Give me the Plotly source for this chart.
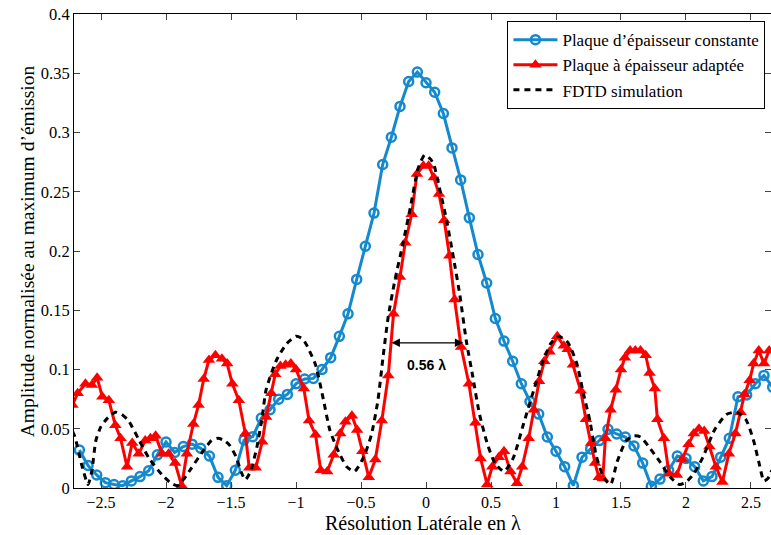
import plotly.graph_objects as go

# Blue: constant-thickness plate (x = k/15)
blue_x = [k / 15 for k in range(-40, 41)]
blue_y = [0.032, 0.019, 0.011, 0.0045, 0.003, 0.002, 0.006, 0.0096, 0.0146, 0.028,
          0.0388, 0.030, 0.035, 0.037, 0.0335, 0.027, 0.009, 0.002, 0.015, 0.0405,
          0.0433, 0.059, 0.066, 0.075, 0.079, 0.088, 0.092, 0.0925, 0.100, 0.110,
          0.128, 0.147, 0.176, 0.204, 0.232, 0.273, 0.296, 0.322, 0.343, 0.351,
          0.342, 0.334, 0.316, 0.287, 0.260, 0.228, 0.197, 0.173, 0.143, 0.124,
          0.107, 0.088, 0.073, 0.0624, 0.043, 0.031, 0.018, 0.002, 0.026, 0.033,
          0.040, 0.0495, 0.0456, 0.043, 0.0354, 0.021, 0.0015, 0.0075, 0.015, 0.027,
          0.025, 0.018, 0.006, 0.0096, 0.026, 0.042, 0.077, 0.0785, 0.088, 0.095, 0.085]

# Red: adapted-thickness plate
red_x = [-2.72, -2.68, -2.62, -2.57, -2.53, -2.49, -2.44, -2.39, -2.35, -2.30,
         -2.26, -2.21, -2.16, -2.12, -2.08, -2.03, -1.98, -1.93, -1.88, -1.84,
         -1.79, -1.75, -1.71, -1.67, -1.62, -1.57, -1.53, -1.49, -1.44, -1.39,
         -1.36, -1.31, -1.26, -1.23, -1.19, -1.16, -1.12, -1.08, -1.04, -1.00,
         -0.94, -0.90, -0.85, -0.81, -0.76, -0.71, -0.66, -0.62, -0.57, -0.53,
         -0.49, -0.44, -0.39, -0.34, -0.29, -0.25, -0.20, -0.16, -0.11, -0.07,
         -0.02, 0.02, 0.06, 0.10, 0.14, 0.18, 0.22, 0.27, 0.33, 0.38,
         0.42, 0.47, 0.51, 0.56, 0.60, 0.65, 0.70, 0.74, 0.79, 0.83,
         0.87, 0.91, 0.95, 1.01, 1.06, 1.09, 1.13, 1.19, 1.23, 1.27,
         1.30, 1.33, 1.36, 1.38, 1.42, 1.46, 1.50, 1.53, 1.57, 1.61,
         1.65, 1.69, 1.72, 1.76, 1.78, 1.83, 1.87, 1.93, 1.97, 2.02,
         2.06, 2.10, 2.14, 2.18, 2.23, 2.28, 2.33, 2.38, 2.42, 2.45,
         2.49, 2.52, 2.56, 2.60, 2.64]
red_y = [0.070, 0.080, 0.088, 0.087, 0.093, 0.077, 0.074, 0.053, 0.042, 0.018,
         0.038, 0.029, 0.040, 0.042, 0.044, 0.029, 0.029, 0.021, 0.002, 0.029,
         0.054, 0.070, 0.092, 0.108, 0.112, 0.109, 0.105, 0.088, 0.074, 0.046,
         0.017, 0.017, 0.039, 0.060, 0.080, 0.096, 0.103, 0.104, 0.105, 0.100,
         0.084, 0.057, 0.045, 0.015, 0.014, 0.028, 0.046, 0.056, 0.061, 0.049,
         0.031, 0.009, 0.024, 0.057, 0.095, 0.147, 0.178, 0.207, 0.231, 0.265,
         0.272, 0.272, 0.262, 0.248, 0.226, 0.196, 0.159, 0.119, 0.088, 0.055,
         0.025, 0.003, 0.018, 0.026, 0.031, 0.014, 0.004, 0.018, 0.042, 0.066,
         0.090, 0.107, 0.115, 0.128, 0.120, 0.117, 0.104, 0.082, 0.058, 0.038,
         0.021, 0.009, 0.008, 0.042, 0.066, 0.083, 0.100, 0.110, 0.116, 0.116,
         0.116, 0.112, 0.097, 0.084, 0.058, 0.042, 0.012, 0.011, 0.024, 0.037,
         0.046, 0.050, 0.048, 0.035, 0.018, 0.005, 0.029, 0.046, 0.064, 0.079,
         0.091, 0.105, 0.116, 0.105, 0.116]

# Black dashed: FDTD simulation
fdtd_x = [-2.72, -2.70, -2.65, -2.60, -2.57, -2.54, -2.50, -2.45, -2.39, -2.34,
          -2.29, -2.21, -2.13, -2.03, -1.96, -1.91, -1.86, -1.81, -1.71, -1.65,
          -1.60, -1.55, -1.51, -1.46, -1.42, -1.39, -1.35, -1.30, -1.26, -1.23,
          -1.15, -1.07, -1.00, -0.95, -0.92, -0.85, -0.79, -0.74, -0.67, -0.61,
          -0.55, -0.48, -0.42, -0.37, -0.33, -0.29, -0.24, -0.18, -0.12, -0.06,
          -0.01, 0.03, 0.06, 0.11, 0.16, 0.21, 0.26, 0.31, 0.36, 0.41,
          0.47, 0.53, 0.60, 0.67, 0.75, 0.83, 0.90, 0.96, 1.02, 1.09,
          1.16, 1.21, 1.26, 1.31, 1.37, 1.42, 1.47, 1.54, 1.60, 1.65,
          1.72, 1.80, 1.88, 1.95, 2.00, 2.06, 2.13, 2.22, 2.31, 2.39,
          2.46, 2.52, 2.56, 2.60, 2.63, 2.66]
fdtd_y = [0.048, 0.043, 0.020, 0.003, 0.015, 0.040, 0.052, 0.059, 0.064, 0.062,
          0.057, 0.041, 0.025, 0.011, 0.004, 0.002, 0.008, 0.016, 0.032, 0.040,
          0.042, 0.040, 0.036, 0.026, 0.013, 0.007, 0.014, 0.035, 0.060, 0.083,
          0.108, 0.122, 0.128, 0.126, 0.121, 0.104, 0.075, 0.049, 0.030, 0.018,
          0.014, 0.026, 0.045, 0.074, 0.111, 0.145, 0.175, 0.205, 0.237, 0.270,
          0.281, 0.278, 0.273, 0.250, 0.225, 0.195, 0.163, 0.124, 0.094, 0.063,
          0.038, 0.021, 0.014, 0.025, 0.054, 0.083, 0.107, 0.122, 0.128, 0.123,
          0.105, 0.080, 0.057, 0.027, 0.008, 0.003, 0.022, 0.040, 0.044, 0.043,
          0.034, 0.022, 0.009, 0.003, 0.005, 0.012, 0.026, 0.049, 0.062, 0.064,
          0.058, 0.040, 0.022, 0.006, 0.008, 0.015]

x_ticks = [-2.5, -2, -1.5, -1, -0.5, 0, 0.5, 1, 1.5, 2, 2.5]
x_ticktext = ["\u22122.5", "\u22122", "\u22121.5", "\u22121", "\u22120.5", "0", "0.5", "1", "1.5", "2", "2.5"]
y_ticks = [0, 0.05, 0.1, 0.15, 0.2, 0.25, 0.3, 0.35, 0.4]
y_ticktext = ["0", "0.05", "0.1", "0.15", "0.2", "0.25", "0.3", "0.35", "0.4"]

BLUE = "#1589cd"
RED = "#ff0000"
SERIF = "Liberation Serif"

fig = go.Figure()
fig.add_trace(go.Scatter(
    x=blue_x, y=blue_y, mode="lines+markers",
    name="Plaque d\u2019épaisseur constante",
    line=dict(color=BLUE, width=3),
    marker=dict(symbol="circle-open", size=9, color=BLUE, line=dict(width=2.5, color=BLUE)),
))
fig.add_trace(go.Scatter(
    x=red_x, y=red_y, mode="lines+markers",
    name="Plaque à épaisseur adaptée",
    line=dict(color=RED, width=3),
    marker=dict(symbol="triangle-up", size=11, color=RED),
))
fig.add_trace(go.Scatter(
    x=fdtd_x, y=fdtd_y, mode="lines",
    name="FDTD simulation",
    line=dict(color="black", width=3, dash="6px,5px", shape="spline", smoothing=0.6),
))

# Width annotation
fig.add_annotation(x=0.287, y=0.1225, ax=-0.277, ay=0.1225, xref="x", yref="y",
                   axref="x", ayref="y", text="", showarrow=True,
                   arrowhead=2, startarrowhead=2, arrowside="end+start",
                   arrowsize=1.3, startarrowsize=1.3, arrowwidth=1.3, arrowcolor="black")
fig.add_annotation(x=0.0, y=0.104, xref="x", yref="y", text="<b>0.56 λ</b>",
                   showarrow=False, font=dict(family="Liberation Sans", size=14, color="black"))

# Axis titles placed as annotations for exact positioning
fig.add_annotation(x=0.5, y=-0.0745, xref="paper", yref="paper", yanchor="middle",
                   text="Résolution Latérale en λ", showarrow=False,
                   font=dict(family=SERIF, size=20, color="black"))
fig.add_annotation(x=-0.067, y=0.5, xref="paper", yref="paper", xanchor="center", yanchor="middle",
                   text="Amplitude normalisée au maximum d\u2019émission", showarrow=False, textangle=-90,
                   font=dict(family=SERIF, size=19.5, color="black"))

fig.update_layout(
    width=771, height=535,
    margin=dict(l=74, r=0, t=14, b=47, autoexpand=False),
    paper_bgcolor="white", plot_bgcolor="white",
    font=dict(family=SERIF, size=16, color="black"),
    showlegend=True,
    legend=dict(x=0.992, y=0.985, xanchor="right", yanchor="top",
                bgcolor="white", bordercolor="black", borderwidth=1,
                font=dict(family=SERIF, size=17), tracegroupgap=0, itemwidth=44),
    xaxis=dict(range=[-2.708, 2.654], tickvals=x_ticks, ticktext=x_ticktext,
               ticks="inside", ticklen=6, showline=True, linecolor="black", linewidth=1,
               mirror="ticks", showgrid=False, zeroline=False, automargin=False,
               tickfont=dict(family=SERIF, size=16)),
    yaxis=dict(range=[0, 0.4], tickvals=y_ticks, ticktext=y_ticktext,
               ticks="inside", ticklen=6, showline=True, linecolor="black", linewidth=1,
               mirror="ticks", showgrid=False, zeroline=False, automargin=False,
               tickfont=dict(family=SERIF, size=16.5)),
)

fig.write_html("out.html", config={"displayModeBar": False},
               post_script="document.body.style.margin='0px';document.body.style.overflow='hidden';")
